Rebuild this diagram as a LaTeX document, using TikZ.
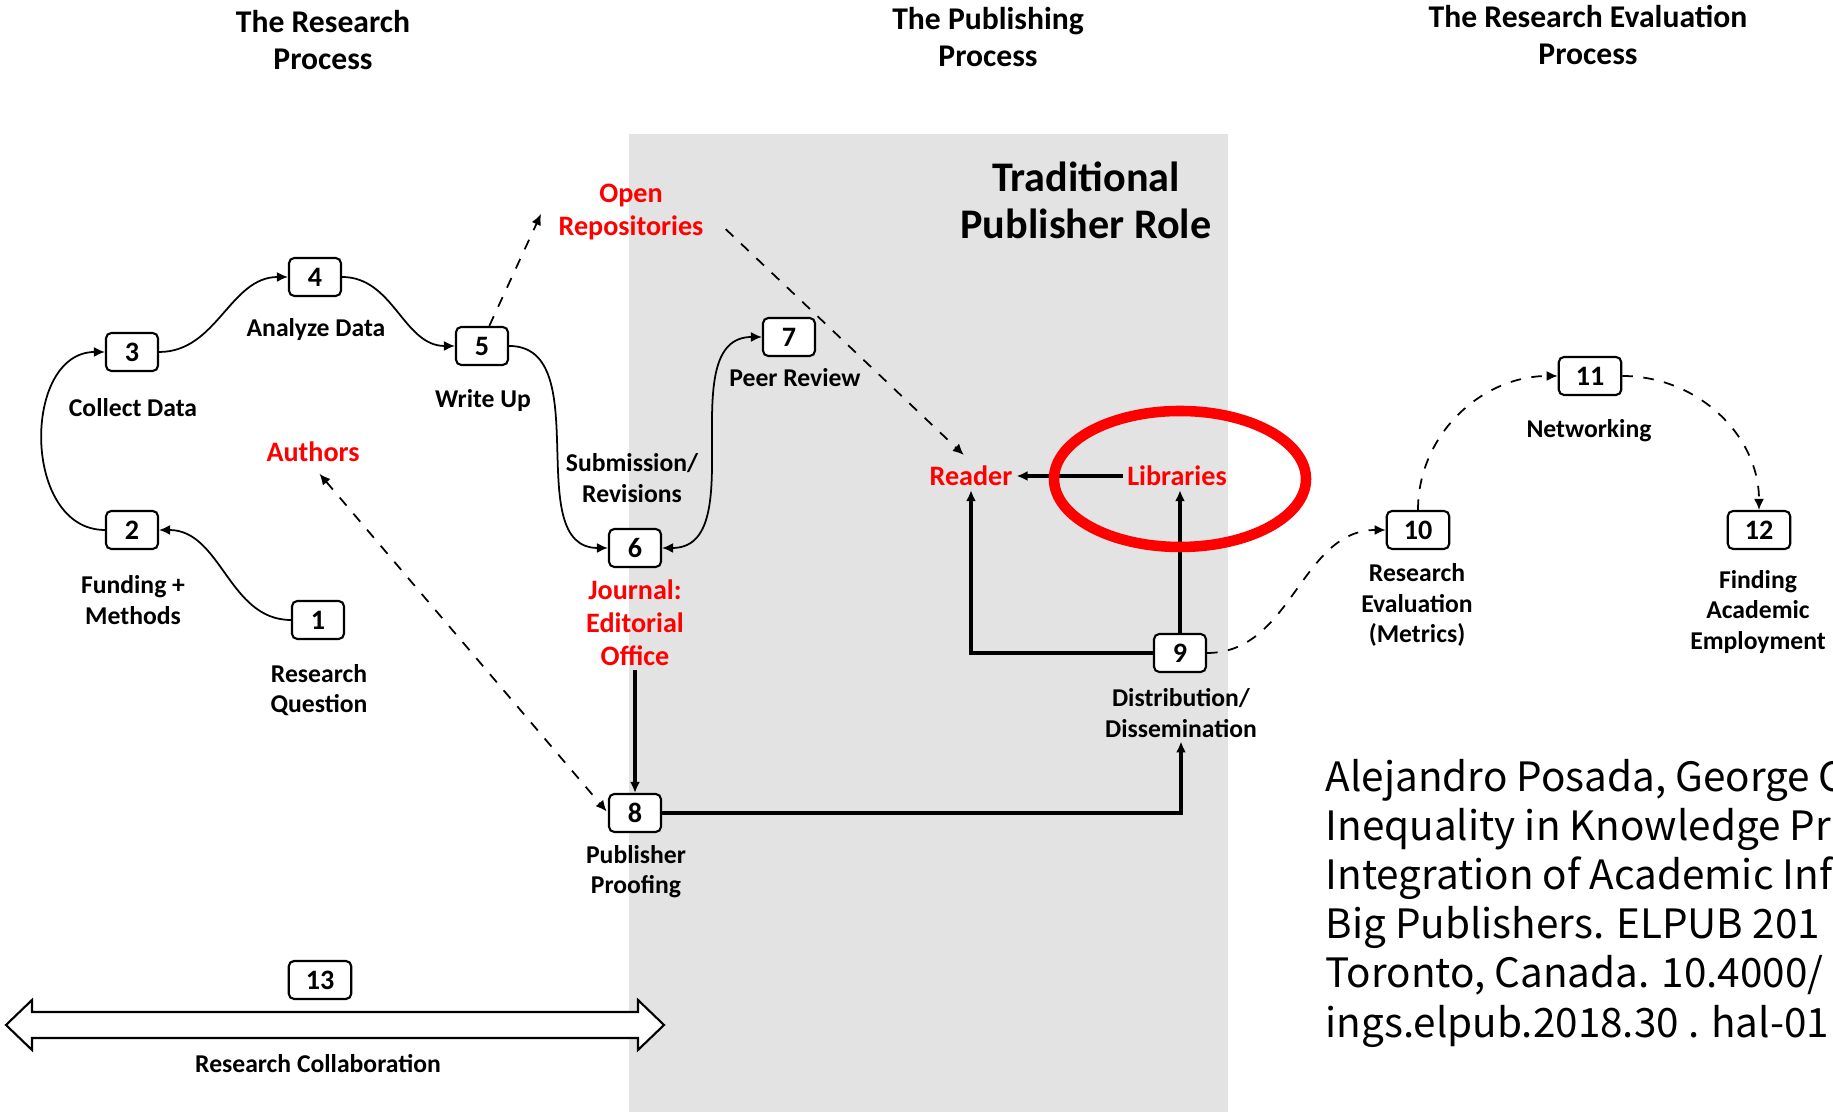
\documentclass[tikz,border=0pt]{standalone}
\usepackage{fontspec}
\setmainfont{Carlito}
\newfontfamily\citefont{Noto Sans CJK JP}
\usetikzlibrary{arrows.meta}
\definecolor{pubgray}{RGB}{227,227,227}

\begin{document}
\begin{tikzpicture}[>={Latex[length=1.1mm,width=1mm]},
        num/.style={draw,rounded corners=1.5pt,line width=0.6pt,fill=white,
            minimum width=0.52cm,minimum height=0.38cm,inner sep=0pt,
            inner xsep=0.17cm,font=\bfseries\fontsize{8}{8}\selectfont},
        lbl/.style={align=center,inner sep=1pt,
            font=\bfseries\fontsize{7.3}{8.6}\selectfont},
        rlbl/.style={align=center,inner sep=1pt,text=red,
            font=\bfseries\fontsize{8}{9.4}\selectfont},
        head/.style={align=center,font=\bfseries\fontsize{9}{10.5}\selectfont},
        flow/.style={->,line width=0.5pt},
        dflow/.style={->,dashed,line width=0.5pt},
        main/.style={->,line width=1.1pt}]
	\useasboundingbox (0,0) rectangle (18.33,11.12);
	\fill[pubgray] (6.29,0) rectangle (12.28,9.78);

	% headings
	\node[head] (hres) at (3.23,10.72) {The Research\\Process};
	\node[head] (hpub) at (9.88,10.75) {The Publishing\\Process};
	\node[head] (heval) at (15.88,10.77) {The Research Evaluation\\Process};
	\node[align=center,font=\bfseries\fontsize{12}{13.4}\selectfont] (trad) at (10.86,9.12) {Traditional\\Publisher Role};

	% numbered steps
	\node[num] (n1) at (3.18,4.92) {1};
	\node[num] (n2) at (1.32,5.82) {2};
	\node[num] (n3) at (1.32,7.60) {3};
	\node[num] (n4) at (3.15,8.35) {4};
	\node[num] (n5) at (4.82,7.66) {5};
	\node[num] (n6) at (6.35,5.64) {6};
	\node[num] (n7) at (7.89,7.75) {7};
	\node[num] (n8) at (6.35,2.99) {8};
	\node[num] (n9) at (11.80,4.59) {9};
	\node[num] (n10) at (14.18,5.82) {10};
	\node[num] (n11) at (15.90,7.36) {11};
	\node[num] (n12) at (17.59,5.82) {12};
	\node[num] (n13) at (3.20,1.32) {13};

	% step labels
	\node[lbl] (question) at (3.19,4.22) {Research\\Question};
	\node[lbl] (funding) at (1.33,5.12) {Funding +\\Methods};
	\node[lbl] (collect) at (1.33,7.04) {Collect Data};
	\node[lbl] (analyze) at (3.16,7.82) {Analyze Data};
	\node[lbl] (writeup) at (4.83,7.11) {Write Up};
	\node[lbl] (submit) at (6.32,6.34) {Submission/\\Revisions};
	\node[lbl] (review) at (7.95,7.34) {Peer Review};
	\node[lbl] (proof) at (6.36,2.40) {Publisher\\Proofing};
	\node[lbl] (dist) at (11.81,3.99) {Distribution/\\Dissemination};
	\node[lbl] (metrics) at (14.17,5.07) {Research\\Evaluation\\(Metrics)};
	\node[lbl] (network) at (15.89,6.81) {Networking};
	\node[lbl] (employ) at (17.58,5.00) {Finding\\Academic\\Employment};
	\node[lbl] (collab) at (3.18,0.48) {Research Collaboration};

	% actors
	\node[rlbl] (authors) at (3.13,6.60) {Authors};
	\node[rlbl] (repo) at (6.31,9.00) {Open\\Repositories};
	\node[rlbl] (journal) at (6.35,4.89) {Journal:\\Editorial\\Office};
	\node[rlbl] (reader) at (9.71,6.36) {Reader};
	\node[rlbl] (libr) at (11.77,6.36) {Libraries};
	\coordinate (repotip) at (5.41,8.98);

	% research cycle
	\draw[flow] (n1.west) to[out=180,in=0] (n2.east);
	\draw[flow] (n2.west) to[out=180,in=180,looseness=1.2] (n3.west);
	\draw[flow] (n3.east) to[out=0,in=180] (n4.west);
	\draw[flow] (n4.east) to[out=0,in=180] (n5.west);
	\draw[flow] (n5.east) to[out=0,in=180] (n6.west);
	\draw[flow,<->] (n6.east) to[out=0,in=180] (n7.west);

	% open access routes
	\draw[dflow] (n5.70) -- (repotip);
	\draw[dflow,shorten <=0.25cm,shorten >=0.1cm] (repo.east) -- (reader.north);
	\draw[dflow,<->,shorten <=0.1cm,shorten >=0.02cm] (authors.south) -- (n8.west);

	% publisher chain
	\draw[main] (journal.south) -- (n8.north);
	\draw[main] (n8.east) -| (dist.south);
	\draw[main] (n9.west) -| (reader.south);
	\draw[main] (n9.north) -- (n9.north |- libr.south);
	\draw[main] (libr.west) -- (reader.east);

	% evaluation
	\draw[dflow] (n9.east) to[out=0,in=180] (n10.west);
	\draw[dflow] (n10.north) to[out=90,in=180] (n11.west);
	\draw[dflow] (n11.east) to[out=0,in=90] (n12.north);

	% collaboration arrow
	\draw[fill=white,line width=0.6pt] (0.06,0.87) -- (0.32,1.12) -- (0.32,1.00)
		-- (6.38,1.00) -- (6.38,1.12) -- (6.64,0.87) -- (6.38,0.62) -- (6.38,0.74)
		-- (0.32,0.74) -- (0.32,0.62) -- cycle;

	\draw[red,line width=3pt] (11.80,6.33) ellipse (1.26cm and 0.68cm);

	% citation, cut at the right edge
	\begin{scope}
	\clip (0,0) rectangle (18.33,11.12);
	\node[anchor=north west,inner sep=0pt,align=left,
		font=\citefont\fontsize{11.5}{13.95}\selectfont] (cite) at (13.25,3.53)
		{Alejandro Posada, George C\\Inequality in Knowledge Pr\\Integration of Academic Inf\\Big Publishers. ELPUB 201\\Toronto, Canada. 10.4000/\\ings.elpub.2018.30 . hal-01};
	\end{scope}
\end{tikzpicture}
\end{document}
